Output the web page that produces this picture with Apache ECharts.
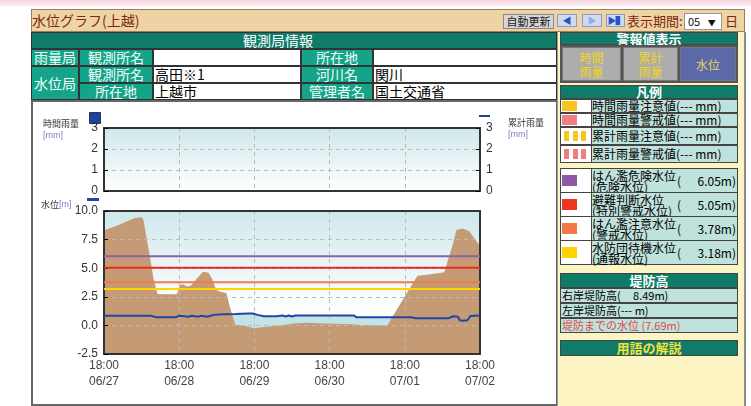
<!DOCTYPE html>
<html><head><meta charset="utf-8">
<script src="https://cdn.jsdelivr.net/npm/echarts@6/dist/echarts.min.js"></script>
<style>
body{margin:0;width:751px;height:406px;overflow:hidden;background:#fff;font-family:"Noto Sans CJK JP",sans-serif;position:relative}
.a{position:absolute;box-sizing:border-box;white-space:nowrap}
.cell{position:absolute;box-sizing:border-box;border:1px solid #333;background:#14a48a;color:#f2fff9;font-size:14px;text-align:center;line-height:15px;white-space:nowrap;overflow:hidden}
.val{background:#fff;color:#000;text-align:left;padding-left:1px}
.bar{position:absolute;box-sizing:border-box;left:560px;width:178px;background:#0e7c69;color:#fff;font-weight:bold;text-align:center;border:1px solid #444;font-size:13px;white-space:nowrap}
.lrow{position:absolute;box-sizing:border-box;left:560px;width:178px;border:1px solid #444;background:#bfe2dc;font-size:12px;white-space:pre;color:#000}
.sw{position:absolute;left:0;top:0;bottom:0;width:30px;background:#fff;border-right:1px solid #444}
.sw div{position:absolute}
.lt{position:absolute;left:31px;top:0}
.drow{position:absolute;box-sizing:border-box;left:560px;width:178px;height:15px;border:1px solid #444;background:#bfe2dc;font-size:11px;line-height:13px;white-space:pre;color:#000;padding-left:1px}
.btn{position:absolute;box-sizing:border-box;background:#adadad;color:#f2d41c;font-size:12px;line-height:14px;text-align:center;padding-top:3px;border:1px solid #777}
.arr{position:absolute;box-sizing:border-box;top:14px;height:13px;background:#cfdaf0;border:1px solid #8a9cc4;color:#2a52c4;font-size:9px;line-height:11px;text-align:center}
</style></head>
<body>
<div class="a" style="left:0;top:0;width:751px;height:6px;background:linear-gradient(#f7d3dc,#fdf0f3)"></div>
<div class="a" style="left:31px;top:9px;width:714px;height:23px;background:#f0d3a4;border:1px solid #9c7e5a"></div>
<div class="a" style="left:32px;top:10px;font-size:14px;line-height:20px;color:#7a2a12">水位グラフ(上越)</div>
<div class="a" style="left:503px;top:14px;width:51px;height:15px;background:#d6d6d6;border:1px solid #888;font-size:11px;line-height:13px;text-align:center;color:#222">自動更新</div>
<div class="arr" style="left:557px;width:20px">◀</div>
<div class="arr" style="left:582px;width:20px;color:#8fb0e6">▶</div>
<div class="arr" style="left:606px;width:19px;letter-spacing:-1px">▶▌</div>
<div class="a" style="left:627px;top:12px;font-size:13px;line-height:17px;color:#7a2a12">表示期間:</div>
<div class="a" style="left:684px;top:13px;width:38px;height:17px;background:#fff;border:1px solid #999;font-size:11px;line-height:15px;padding-left:3px;color:#111">05 <span style="font-size:8px;margin-left:5px">▼</span></div>
<div class="a" style="left:725px;top:12px;font-size:13px;line-height:17px;color:#7a2a12">日</div>

<!-- station table -->
<div class="cell" style="left:31px;top:32px;width:526px;height:17px;background:#0e7c69;color:#fff;text-align:left;padding-left:211px">観測局情報</div>
<div class="cell" style="left:31px;top:49px;width:48px;height:17px">雨量局</div>
<div class="cell" style="left:79px;top:49px;width:74px;height:17px">観測所名</div>
<div class="cell val" style="left:153px;top:49px;width:148px;height:17px"></div>
<div class="cell" style="left:301px;top:49px;width:72px;height:17px">所在地</div>
<div class="cell val" style="left:373px;top:49px;width:184px;height:17px"></div>
<div class="cell" style="left:31px;top:66px;width:48px;height:34px;line-height:32px">水位局</div>
<div class="cell" style="left:79px;top:66px;width:74px;height:17px">観測所名</div>
<div class="cell val" style="left:153px;top:66px;width:148px;height:17px">高田※1</div>
<div class="cell" style="left:301px;top:66px;width:72px;height:17px">河川名</div>
<div class="cell val" style="left:373px;top:66px;width:184px;height:17px">関川</div>
<div class="cell" style="left:79px;top:83px;width:74px;height:17px">所在地</div>
<div class="cell val" style="left:153px;top:83px;width:148px;height:17px">上越市</div>
<div class="cell" style="left:301px;top:83px;width:72px;height:17px">管理者名</div>
<div class="cell val" style="left:373px;top:83px;width:184px;height:17px">国土交通省</div>

<!-- chart panel -->
<div class="a" style="left:31px;top:100px;width:527px;height:306px;background:#fff;border:2px solid #666"></div>
<div id="chart" class="a" style="left:33px;top:102px;width:522px;height:300px"></div>

<!-- right panel -->
<div class="a" style="left:557px;top:32px;width:189px;height:374px;background:#fdf4c4;border-left:1px solid #999;border-right:2px solid #8c8c8c"></div>
<div class="bar" style="top:32px;height:13px;line-height:11px">警報値表示</div>
<div class="a" style="left:560px;top:45px;width:178px;height:38px;background:#555"></div>
<div class="btn" style="left:562px;top:47px;width:59px;height:34px">時間<br>雨量</div>
<div class="btn" style="left:623px;top:47px;width:55px;height:34px">累計<br>雨量</div>
<div class="btn" style="left:680px;top:47px;width:56px;height:34px;background:#5b69a9;color:#e6d666;padding-top:10px">水位</div>
<div class="bar" style="top:85px;height:14px;line-height:12px">凡例</div>

<div class="lrow" style="top:99px;height:14px;line-height:12px"><div class="sw"><div style="left:1px;top:1px;width:15px;height:10px;background:#f8c61a"></div></div><div class="lt">時間雨量注意値(--- mm)</div></div>
<div class="lrow" style="top:113px;height:14px;line-height:12px"><div class="sw"><div style="left:1px;top:1px;width:15px;height:10px;background:#f27d80"></div></div><div class="lt">時間雨量警戒値(--- mm)</div></div>
<div class="lrow" style="top:127px;height:18px;line-height:16px"><div class="sw"><div style="left:3px;top:3px;width:5px;height:10px;background:#f8c61a"></div><div style="left:12px;top:3px;width:5px;height:10px;background:#f8c61a"></div><div style="left:20px;top:3px;width:5px;height:10px;background:#f8c61a"></div></div><div class="lt">累計雨量注意値(--- mm)</div></div>
<div class="lrow" style="top:145px;height:18px;line-height:16px"><div class="sw"><div style="left:3px;top:3px;width:5px;height:10px;background:#f27d80"></div><div style="left:12px;top:3px;width:5px;height:10px;background:#f27d80"></div><div style="left:20px;top:3px;width:5px;height:10px;background:#f27d80"></div></div><div class="lt">累計雨量警戒値(--- mm)</div></div>

<div class="lrow" style="top:168px;height:25px;line-height:11px"><div class="sw"><div style="left:1px;top:6px;width:15px;height:11px;background:#8e5aa8"></div></div><div class="lt" style="top:1px">はん濫危険水位<br>(危険水位)</div><div class="lt" style="left:116px;top:6px">(</div><div class="lt" style="left:auto;right:1px;top:6px">6.05m)</div></div>
<div class="lrow" style="top:192px;height:25px;line-height:11px"><div class="sw"><div style="left:1px;top:6px;width:15px;height:11px;background:#ef3522"></div></div><div class="lt" style="top:1px">避難判断水位<br>(特別警戒水位)</div><div class="lt" style="left:116px;top:6px">(</div><div class="lt" style="left:auto;right:1px;top:6px">5.05m)</div></div>
<div class="lrow" style="top:216px;height:25px;line-height:11px"><div class="sw"><div style="left:1px;top:6px;width:15px;height:11px;background:#f27a48"></div></div><div class="lt" style="top:1px">はん濫注意水位<br>(警戒水位)</div><div class="lt" style="left:116px;top:6px">(</div><div class="lt" style="left:auto;right:1px;top:6px">3.78m)</div></div>
<div class="lrow" style="top:240px;height:25px;line-height:11px"><div class="sw"><div style="left:1px;top:6px;width:15px;height:11px;background:#ffd300"></div></div><div class="lt" style="top:1px">水防団待機水位<br>(通報水位)</div><div class="lt" style="left:116px;top:6px">(</div><div class="lt" style="left:auto;right:1px;top:6px">3.18m)</div></div>

<div class="bar" style="top:273px;height:15px;line-height:13px">堤防高</div>
<div class="drow" style="top:288px">右岸堤防高(     8.49m)</div>
<div class="drow" style="top:303px">左岸堤防高(--- m)</div>
<div class="drow" style="top:318px;color:#e04848">堤防までの水位 (7.69m)</div>
<div class="bar" style="top:340px;height:16px;line-height:14px;color:#f3e23c">用語の解説</div>

<script>
// ---- data ----
const xTickLabels = ['18:00\n06/27','18:00\n06/28','18:00\n06/29','18:00\n06/30','18:00\n07/01','18:00\n07/02'];
const hourMin = 0, hourMax = 120, hourStep = 24;
const rainMin = 0, rainMax = 3, rainStep = 1;
const levelMin = -2.5, levelMax = 10, levelStep = 2.5;
const rainHours = [];
const rainHourly = [];
const waterHours = [0,4,6.3,6.8,7.5,15,16.5,23,24,27,28,30,31,33,35,38,42,46,47.5,49,51,55,57,58,59,60,61,70,79.8,80.5,90,90.6,91,98,99.5,110,111.5,113,113.5,114.5,116,117,120];
const waterLevel = [0.84,0.84,0.84,0.75,0.84,0.84,0.72,0.72,0.84,0.75,0.84,0.75,0.84,0.75,0.92,0.98,1.0,1.04,1.04,0.92,0.8,0.8,0.86,0.78,0.86,0.78,0.86,0.86,0.86,0.72,0.72,0.8,0.72,0.72,0.63,0.63,0.8,0.75,0.45,0.4,0.45,0.83,0.86];
const groundX = [0,4.05,8.85,9.9,12.05,12.6,14.2,15.8,17.07,20.05,23.25,24.3,25.2,26.45,27.7,29.65,31.6,33.4,34.45,35.85,37.1,39.05,40.3,41.9,44.6,47.8,51.0,54.2,56.3,60.6,64.85,70.2,79.8,81.9,90.45,91.5,95.8,100.05,104.3,108.6,109.65,111.25,112.5,114.45,116.6,118.2,120];
const groundY = [8.32,8.7,9.27,9.39,9.45,9.19,6.72,4.11,2.75,2.72,2.72,3.53,3.59,3.39,3.47,4.11,4.69,4.6,4.11,3.1,2.95,2.81,1.5,0.05,0.0,-0.24,-0.15,-0.06,0.0,0.17,0.23,0.17,0.11,0.03,0.0,0.5,2.44,4.35,4.47,4.65,5.58,7.03,8.33,8.47,8.24,7.6,6.96];
const thresholdNames = ['はん濫危険水位','避難判断水位','はん濫注意水位','水防団待機水位'];
const thresholds = [6.05, 5.05, 3.78, 3.18];
const thresholdColors = ['#8f5fa8','#f02a1a','#f47a4c','#ffd400'];

// ---- chart ----
const chart = echarts.init(document.getElementById('chart'));
const lbl = {color:'#333', fontSize:12, fontFamily:'"Liberation Sans", Arial'};
const frame = {show:true, onZero:false, lineStyle:{color:'#333', width:2}};
const split = {show:true, lineStyle:{color:'#bbbbbb', type:[4,4], width:1}};
const tickIn = {show:true, inside:true, length:4, lineStyle:{color:'#000', width:1}};
const bg = (mid) => new echarts.graphic.LinearGradient(0,0,0,1,[{offset:0,color:'#cfe8eb'},{offset:mid,color:'#ffffff'},{offset:1,color:'#ffffff'}]);
const pair = (xs, ys) => xs.map((x,i)=>[x, ys[i]]);

const series = [
  {type:'bar', xAxisIndex:0, yAxisIndex:0, data:pair(rainHours, rainHourly), itemStyle:{color:'#1a44a0'}},
  {type:'line', xAxisIndex:2, yAxisIndex:2, data:pair(waterHours, waterLevel), symbol:'none', lineStyle:{width:0}, areaStyle:{color:'#c3e4e7', origin:'start', opacity:1}, silent:true, z:1},
  {type:'line', xAxisIndex:2, yAxisIndex:2, data:pair(groundX, groundY), symbol:'none', lineStyle:{width:0}, areaStyle:{color:'#c49b74', origin:'start', opacity:1}, silent:true, z:2}
];
thresholds.forEach((v,i)=>{
  series.push({type:'line', name:thresholdNames[i], xAxisIndex:2, yAxisIndex:2, data:[[hourMin,v],[hourMax,v]], symbol:'none', lineStyle:{color:thresholdColors[i], width:2}, silent:true, z:11});
});
series.push({type:'line', xAxisIndex:2, yAxisIndex:2, data:pair(waterHours, waterLevel), symbol:'none', lineStyle:{color:'#1f45a6', width:2}, z:12});

chart.setOption({
  animation:false,
  grid:[
    {left:71, top:26, width:376, height:63, show:true, borderWidth:0, backgroundColor:bg(1)},
    {left:71, top:109, width:376, height:143, show:true, borderWidth:0, backgroundColor:bg(0.7)}
  ],
  xAxis:[
    {gridIndex:0, type:'value', min:hourMin, max:hourMax, interval:hourStep, position:'bottom', axisLine:frame, axisTick:{show:false}, axisLabel:{show:false}, splitLine:split, z:10},
    {gridIndex:0, type:'value', min:hourMin, max:hourMax, interval:hourStep, position:'top', axisLine:frame, axisTick:{show:false}, axisLabel:{show:false}, splitLine:{show:false}, z:10},
    {gridIndex:1, type:'value', min:hourMin, max:hourMax, interval:hourStep, position:'bottom', axisLine:frame, axisTick:{show:false},
      axisLabel:Object.assign({}, lbl, {margin:4, lineHeight:16, color:'#444', formatter:(v)=>xTickLabels[Math.round(v/hourStep)]}), splitLine:split, z:10},
    {gridIndex:1, type:'value', min:hourMin, max:hourMax, interval:hourStep, position:'top', axisLine:frame, axisTick:{show:false}, axisLabel:{show:false}, splitLine:{show:false}, z:10}
  ],
  yAxis:[
    {gridIndex:0, type:'value', min:rainMin, max:rainMax, interval:rainStep, position:'left', axisLine:frame, axisTick:tickIn, axisLabel:Object.assign({}, lbl, {margin:6}), splitLine:split, z:10},
    {gridIndex:0, type:'value', min:rainMin, max:rainMax, interval:rainStep, position:'right', axisLine:frame, axisTick:tickIn, axisLabel:Object.assign({}, lbl, {margin:6}), splitLine:{show:false}, z:10},
    {gridIndex:1, type:'value', min:levelMin, max:levelMax, interval:levelStep, position:'left', axisLine:frame, axisTick:tickIn, axisLabel:Object.assign({}, lbl, {margin:6, formatter:(v)=>v.toFixed(1)}), splitLine:split, z:10},
    {gridIndex:1, type:'value', min:levelMin, max:levelMax, interval:levelStep, position:'right', axisLine:frame, axisTick:{show:false}, axisLabel:{show:false}, splitLine:{show:false}, z:10}
  ],
  graphic:[
    {type:'text', left:10, top:17, style:{text:'時間雨量', fill:'#333', font:'9px "Noto Sans CJK JP"'}},
    {type:'text', left:10, top:29, style:{text:'[mm]', fill:'#7b7fc4', font:'9px "Liberation Sans"'}},
    {type:'rect', left:56, top:10, shape:{width:11, height:11}, style:{fill:'#1a44a0', stroke:'#334', lineWidth:1}},
    {type:'rect', left:446, top:13, shape:{width:11, height:2}, style:{fill:'#2a3f90'}},
    {type:'text', left:475, top:16, style:{text:'累計雨量', fill:'#333', font:'9px "Noto Sans CJK JP"'}},
    {type:'text', left:475, top:28, style:{text:'[mm]', fill:'#7b7fc4', font:'9px "Liberation Sans"'}},
    {type:'rect', left:54, top:96, shape:{width:12, height:3}, style:{fill:'#1f45a6'}},
    {type:'text', left:8, top:98, style:{text:'{a|水位}{b|[m]}', rich:{a:{fill:'#333', font:'9px "Noto Sans CJK JP"'}, b:{fill:'#7b7fc4', font:'9px "Liberation Sans"'}}}}
  ],
  series:series
});
</script>
</body></html>
